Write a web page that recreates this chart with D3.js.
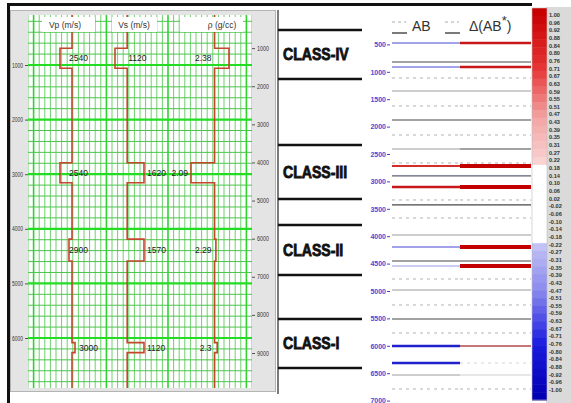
<!DOCTYPE html>
<html><head><meta charset="utf-8">
<script src="https://cdn.jsdelivr.net/npm/d3@7"></script>
<style>
body{margin:0;background:#fff;}
svg{display:block;font-family:'Liberation Sans',Arial,sans-serif;}
</style>
</head><body>
<svg id="c" width="571" height="403"></svg>
<script>
// ---------------- DATA ----------------
// Left panel: well-log model (depth axis left, time axis right)
const depthTicksL = [1000, 2000, 3000, 4000, 5000, 6000];
const timeTicksR = [1000, 2000, 3000, 4000, 5000, 6000, 7000, 8000, 9000];
const curveNames = ["Vp (m/s)", "Vs (m/s)", "ρ (g/cc)"];
const blockTop = [694, 2790, 4190, 6085];
const blockBase = [1060, 3156, 4590, 6268];
const vpShale = 2740;
const vpSand = [2540, 2540, 2690, 2790];
const vsShale = 1330;
const vsSand = [1120, 1620, 1620, 1620];
const rhoShale = 2.27;
const rhoSand = [2.38, 2.09, 2.28, 2.29];
const vpLabels = ["2540", "2540", "2900", "3000"];
const vsLabels = ["1120", "1620", "1570", "1120"];
const rhoLabels = ["2.38", "2.09", "2.29", "2.3"];

// Right panel: classes, AB / Δ(AB*) lines, colour bar
const classNames = ["CLASS-IV", "CLASS-III", "CLASS-II", "CLASS-I"];
const classTop = [237, 2336, 3796, 5511];
const classBase = [1131, 3321, 4708, 6405];
const abTicks = [500, 1000, 1500, 2000, 2500, 3000, 3500, 4000, 4500, 5000, 5500, 6000, 6500, 7000];
const lineDepth = [474, 821, 912, 1113, 1350, 1624, 1880, 2153, 2409, 2664, 2719, 2901, 3102, 3339, 3430, 3668, 3978, 4197, 4453, 4544, 4781, 4982, 5255, 5511, 5766, 6004, 6314, 6533, 6788];
const abKind = ["blue", "dark", "blue", "dash", "grid", "dash", "dark", "dash", "grid", "dash", "red", "slate", "redw", "dash", "dark", "dash", "grid", "blue", "dark", "lblue", "dash", "grid", "dash", "dark", "dash", "blueW", "blueW", "grid", "dash"];
const dKind  = ["redw", "dark", "redw", "dash", "grid", "dash", "dark", "dash", "dark", "dash", "redT", "slate", "redT", "dash", "dark", "dash", "grid", "redT", "dark", "redT", "dash", "grid", "dash", "dark", "dash", "brown", "ldash", "lgrid", "dash"];
const cbarLabels = ["1.00","0.96","0.92","0.88","0.84","0.80","0.76","0.71","0.67","0.63","0.59","0.55","0.51","0.47","0.43","0.39","0.35","0.31","0.27","0.22","0.18","0.14","0.10","0.06","0.02","-0.02","-0.06","-0.10","-0.14","-0.18","-0.22","-0.27","-0.31","-0.35","-0.39","-0.43","-0.47","-0.51","-0.55","-0.59","-0.63","-0.67","-0.71","-0.76","-0.80","-0.84","-0.88","-0.92","-0.96","-1.00"];

// ---------------- STYLES ----------------
const lineStyle = {
  blue:  {c:"#4646d6", w:1.1},
  blueW: {c:"#2020cc", w:2.6},
  lblue: {c:"#9a9ae6", w:1.1},
  dark:  {c:"#474747", w:1.2},
  slate: {c:"#5a5e70", w:1.3},
  grid:  {c:"#9c9c9c", w:1.1},
  lgrid: {c:"#cfcfcf", w:1.1},
  dash:  {c:"#b2b2b2", w:1, d:"3,4"},
  ldash: {c:"#d4d4d4", w:1, d:"3,4"},
  red:   {c:"#d42a2a", w:1.8},
  redw:  {c:"#c81818", w:2.6},
  redT:  {c:"#c20000", w:4},
  brown: {c:"#b24a4a", w:1.6}
};

const svg = d3.select("#c");

// ---------------- LEFT PANEL ----------------
svg.append("rect").attr("x",10.5).attr("y",10.5).attr("width",265).attr("height",381)
  .attr("fill","#e4e4e4").attr("stroke","#b4b4b4");

const P = {x0:28, x1:252, y0:15, y1:388};
const yL = d3.scaleLinear().domain([0, 7000]).range([10.4, 392.6]);
const yT = d3.scaleLinear().domain([0, 9000]).range([10, 353]);
const xg = d3.scaleLinear().domain([0, 40]).range([P.x0, P.x1]);

svg.append("defs").append("clipPath").attr("id","plotclip")
  .append("rect").attr("x",P.x0).attr("y",P.y0).attr("width",P.x1-P.x0).attr("height",P.y1-P.y0);

const plot = svg.append("g").attr("clip-path","url(#plotclip)");
plot.append("rect").attr("x",P.x0).attr("y",P.y0).attr("width",P.x1-P.x0).attr("height",P.y1-P.y0).attr("fill","#fff");

// vertical grid
const majorV = [1, 14, 25, 39];
plot.selectAll("line.v").data(d3.range(0, 41)).join("line")
  .attr("x1", d => xg(d)).attr("x2", d => xg(d)).attr("y1", P.y0).attr("y2", P.y1)
  .attr("stroke", d => majorV.includes(d) ? "#2fd42f" : "#5ccc5c")
  .attr("stroke-width", d => majorV.includes(d) ? 1.6 : 0.9);
// horizontal grid
plot.selectAll("line.h").data(d3.range(200, 7000, 200)).join("line")
  .attr("x1", P.x0).attr("x2", P.x1).attr("y1", d => yL(d)).attr("y2", d => yL(d))
  .attr("stroke", d => d % 1000 === 0 ? "#22dd22" : "#4cc44c")
  .attr("stroke-width", d => d % 1000 === 0 ? 2.2 : 1);

// curve tracks
const xVp = d3.scaleLinear().domain([2000, 3200]).range([27.6, 99.6]);
const xVs = d3.scaleLinear().domain([1120, 1620]).range([115, 144]);
const xRho = d3.scaleLinear().domain([2.09, 2.38]).range([191, 229]);

function stepPts(shale, sand, sx) {
  const pts = [[sx(shale), P.y0 - 2]];
  blockTop.forEach((t, i) => {
    pts.push([sx(shale), yL(t)], [sx(sand[i]), yL(t)], [sx(sand[i]), yL(blockBase[i])], [sx(shale), yL(blockBase[i])]);
  });
  pts.push([sx(shale), P.y1 + 2]);
  return pts;
}
const line = d3.line();
[[vpShale, vpSand, xVp], [vsShale, vsSand, xVs], [rhoShale, rhoSand, xRho]].forEach(([s, sd, sx]) => {
  plot.append("path").attr("d", line(stepPts(s, sd, sx)))
    .attr("fill","none").attr("stroke","#c4472c").attr("stroke-width",1.6);
});

// block labels
const lblG = svg.append("g").attr("font-size", 8.5).attr("fill", "#222");
blockTop.forEach((t, i) => {
  const ym = (yL(t) + yL(blockBase[i])) / 2 + 3;
  const vpx = vpSand[i] > vpShale ? xVp(vpSand[i]) + 4 : xVp(vpShale) - 3;
  lblG.append("text").attr("x", vpx).attr("y", ym).text(vpLabels[i]);
  const vsx = vsSand[i] > vsShale ? xVs(vsSand[i]) + 3 : xVs(vsShale) + 1;
  lblG.append("text").attr("x", vsx).attr("y", ym).text(vsLabels[i]);
  const rx = Math.min(xRho(rhoShale), xRho(rhoSand[i])) - 3;
  lblG.append("text").attr("x", rx).attr("y", ym).attr("text-anchor","end").text(rhoLabels[i]);
});

// header boxes
const hdr = [{x:42, w:53, cx:65}, {x:112, w:45, cx:134}, {x:180, w:63, cx:222}];
curveNames.forEach((n, i) => {
  svg.append("rect").attr("x", hdr[i].x).attr("y", 17).attr("width", hdr[i].w).attr("height", 15).attr("fill", "#fff");
  svg.append("text").attr("x", hdr[i].cx).attr("y", 28).attr("text-anchor","middle")
    .attr("font-size", 8.5).attr("fill", "#333").text(n);
});

// axes
const axL = svg.append("g").attr("transform", `translate(${P.x0},0)`)
  .call(d3.axisLeft(yL).tickValues(depthTicksL).tickSize(3).tickPadding(2).tickFormat(d3.format("d")));
axL.select(".domain").remove();
axL.selectAll("text").attr("font-size", 6.5).attr("fill", "#333")
  .attr("textLength", 11).attr("lengthAdjust", "spacingAndGlyphs");
axL.selectAll("line").attr("stroke", "#555");
const axR = svg.append("g").attr("transform", `translate(${P.x1},0)`)
  .call(d3.axisRight(yT).tickValues(timeTicksR).tickSize(3).tickPadding(2).tickFormat(d3.format("d")));
axR.select(".domain").remove();
axR.selectAll("text").attr("font-size", 6.5).attr("fill", "#333")
  .attr("textLength", 12).attr("lengthAdjust", "spacingAndGlyphs");
axR.selectAll("line").attr("stroke", "#555");

// ---------------- RIGHT PANEL ----------------
const yA = d3.scaleLinear().domain([0, 7000]).range([17, 400.6]);
svg.append("line").attr("x1", 278).attr("x2", 278).attr("y1", 10).attr("y2", 394)
  .attr("stroke", "#222").attr("stroke-width", 1.2);

const cls = svg.append("g");
classNames.forEach((n, i) => {
  [classTop[i], classBase[i]].forEach(d => {
    cls.append("line").attr("x1", 278).attr("x2", 362).attr("y1", yA(d)).attr("y2", yA(d))
      .attr("stroke", "#111").attr("stroke-width", 2.6);
  });
  const yc = (yA(classTop[i]) + yA(classBase[i])) / 2 + 6;
  cls.append("g").attr("transform", `translate(283,${yc}) scale(0.88,1)`)
    .append("text").attr("x", 0).attr("y", 0)
    .attr("font-size", 16).attr("font-weight", "bold")
    .attr("fill", "#111").attr("stroke", "#111").attr("stroke-width", 0.8).text(n);
});

// blue depth axis
const axA = svg.append("g").attr("transform", "translate(390,0)")
  .call(d3.axisLeft(yA).tickValues(abTicks).tickSize(3).tickPadding(1).tickFormat(d3.format("d")));
axA.select(".domain").remove();
axA.selectAll("text").attr("font-size", 7).attr("font-weight", "bold").attr("fill", "#4a4ad4");
axA.selectAll("line").attr("stroke", "#4040d0");

// AB and Δ(AB*) lines
const AB = {x0:392, x1:460}, DL = {x0:460, x1:531};
const rows = lineDepth.map((d, i) => ({d, a: lineStyle[abKind[i]], b: lineStyle[dKind[i]]}));
const lg = svg.append("g");
rows.forEach(r => {
  lg.append("line").attr("x1", AB.x0).attr("x2", AB.x1).attr("y1", yA(r.d)).attr("y2", yA(r.d))
    .attr("stroke", r.a.c).attr("stroke-width", r.a.w).attr("stroke-dasharray", r.a.d || null);
  lg.append("line").attr("x1", DL.x0).attr("x2", DL.x1).attr("y1", yA(r.d)).attr("y2", yA(r.d))
    .attr("stroke", r.b.c).attr("stroke-width", r.b.w).attr("stroke-dasharray", r.b.d || null);
});

// headers with legend marks
[392, 445].forEach(lx => {
  svg.append("line").attr("x1", lx).attr("x2", lx + 14).attr("y1", 22).attr("y2", 22)
    .attr("stroke", "#aaa").attr("stroke-dasharray", "3,3");
  svg.append("line").attr("x1", lx).attr("x2", lx + 15).attr("y1", 33).attr("y2", 33)
    .attr("stroke", "#222").attr("stroke-width", 1.2);
});
svg.append("text").attr("x", 412).attr("y", 31).attr("font-size", 14).attr("fill", "#333").text("AB");
const dt = svg.append("text").attr("x", 469).attr("y", 31).attr("font-size", 14).attr("fill", "#333");
dt.append("tspan").text("Δ(AB");
dt.append("tspan").attr("dy", -6).attr("font-size", 13).text("*");
dt.append("tspan").attr("dy", 6).text(")");

// colour bar
const cScale = d3.scaleLinear()
  .domain([-1, -0.72, -0.45, -0.2, -0.19, 0.19, 0.22, 0.45, 0.7, 1])
  .range(["#0000b4", "#1c1ce0", "#8a8aee", "#c6c6f6", "#ffffff", "#ffffff", "#f9d2d2", "#f3a4a4", "#e63636", "#c80000"]);
svg.append("rect").attr("x", 546).attr("y", 7).attr("width", 25).attr("height", 396).attr("fill", "#dadada");
const band = d3.scaleBand().domain(cbarLabels).range([8, 400]);
svg.selectAll("rect.cb").data(cbarLabels).join("rect")
  .attr("x", 532).attr("width", 15).attr("y", d => band(d)).attr("height", band.bandwidth() + 0.5)
  .attr("fill", d => cScale(+d));
svg.append("rect").attr("x", 532).attr("y", 8).attr("width", 15).attr("height", 392)
  .attr("fill", "none").attr("stroke", "#bbb").attr("stroke-width", 0.6);
const lp = d3.scalePoint().domain(cbarLabels).range([15, 390]);
svg.selectAll("text.cbl").data(cbarLabels).join("text")
  .attr("x", 549).attr("y", d => lp(d) + 2).attr("font-size", 5.6).attr("font-weight", "bold")
  .attr("fill", "#333").text(d => d);

// outer frame
svg.append("line").attr("x1", 7).attr("x2", 532).attr("y1", 4.5).attr("y2", 4.5).attr("stroke", "#111").attr("stroke-width", 3);
svg.append("line").attr("x1", 8.5).attr("x2", 8.5).attr("y1", 3).attr("y2", 403).attr("stroke", "#111").attr("stroke-width", 3);
</script>
</body></html>
